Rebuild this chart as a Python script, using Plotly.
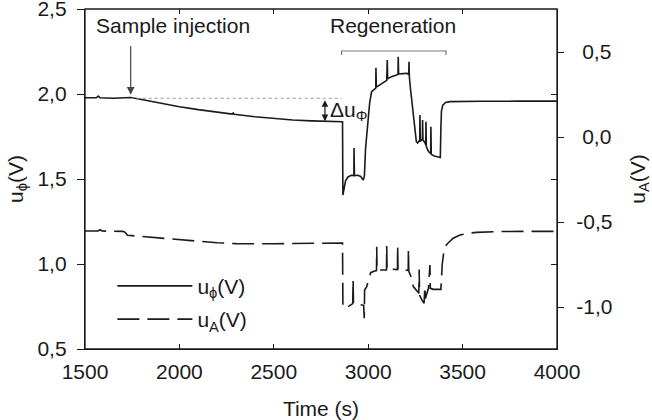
import plotly.graph_objects as go

# ---- data ----
t_phi = [1500, 1560, 1570, 1580, 1650, 1700, 1742, 1800, 1900, 2000, 2100, 2200, 2280, 2285, 2290,
         2400, 2500, 2600, 2700, 2800, 2864, 2866, 2872, 2880, 2893, 2910, 2924, 2925, 2927, 2945,
         2960, 2974, 2980, 2986, 2992, 3000, 3008, 3018, 3030, 3040, 3041, 3043, 3070, 3098, 3101,
         3103, 3124, 3145, 3158, 3159, 3161, 3185, 3205, 3215, 3216, 3218, 3225, 3232, 3240, 3248,
         3255, 3262, 3273, 3274, 3276, 3287, 3288, 3290, 3300, 3305, 3306, 3308, 3320, 3331, 3332,
         3334, 3350, 3370, 3382, 3385, 3388, 3395, 3410, 3433, 3500, 3600, 3800, 4000]
u_phi = [1.978, 1.978, 1.988, 1.978, 1.975, 1.976, 1.979, 1.968, 1.945, 1.925, 1.908, 1.893, 1.882, 1.888, 1.881,
         1.866, 1.855, 1.847, 1.842, 1.838, 1.837, 1.406, 1.44, 1.49, 1.512, 1.522, 1.52, 1.682, 1.52, 1.522,
         1.515, 1.494, 1.52, 1.68, 1.75, 1.86, 1.95, 2.014, 2.028, 2.035, 2.155, 2.04, 2.06, 2.08, 2.2,
         2.09, 2.102, 2.112, 2.115, 2.219, 2.118, 2.12, 2.122, 2.115, 2.19, 2.1, 2.02, 1.95, 1.84, 1.75,
         1.72, 1.712, 1.73, 1.876, 1.72, 1.735, 1.847, 1.73, 1.715, 1.70, 1.837, 1.69, 1.66, 1.65, 1.808,
         1.645, 1.635, 1.63, 1.627, 1.80, 1.90, 1.935, 1.95, 1.955, 1.957, 1.957, 1.958, 1.958]

t_a = [1500, 1570, 1580, 1590, 1700, 1712, 1725, 1800, 1900, 2000, 2109, 2200, 2300, 2400, 2500,
       2600, 2700, 2800, 2864, 2866, 2890, 2918, 2920, 2922, 2950, 2976, 2979, 2981, 2992, 3003,
       3013, 3030, 3044, 3045, 3047, 3070, 3097, 3098, 3100, 3130, 3155, 3156, 3158, 3185, 3212,
       3213, 3215, 3230, 3239, 3266, 3268, 3270, 3272, 3285, 3296, 3300, 3303, 3319, 3327, 3329,
       3345, 3385, 3388, 3392, 3400, 3410, 3422, 3450, 3486, 3530, 3575, 3700, 3850, 4000]
u_a = [-0.553, -0.553, -0.545, -0.553, -0.555, -0.56, -0.578, -0.585, -0.597, -0.607, -0.616, -0.622, -0.627, -0.629, -0.628,
       -0.626, -0.624, -0.624, -0.624, -1.002, -1.0, -0.98, -0.841, -0.98, -0.985, -0.99, -1.066, -0.90, -0.88, -0.83,
       -0.798, -0.79, -0.786, -0.645, -0.786, -0.782, -0.782, -0.641, -0.782, -0.778, -0.78, -0.641, -0.782, -0.78, -0.785,
       -0.66, -0.79, -0.83, -0.88, -0.916, -0.92, -0.78, -0.93, -0.96, -0.978, -0.88, -0.95, -0.89, -0.753, -0.89,
       -0.896, -0.896, -0.772, -0.75, -0.68, -0.64, -0.625, -0.595, -0.576, -0.566, -0.561, -0.556, -0.555, -0.555]

x_ticks = [1500, 2000, 2500, 3000, 3500, 4000]
y1_ticks = [0.5, 1.0, 1.5, 2.0, 2.5]
y1_text = ["0,5", "1,0", "1,5", "2,0", "2,5"]
y2_ticks = [-1.0, -0.5, 0.0, 0.5]
y2_text = ["-1,0", "-0,5", "\u00a00,0", "\u00a00,5"]

injection_t = 1742
baseline_phi = 1.975
drop_end_phi = 1.837
regen_start, regen_end = 2859, 3412

FONT = "Liberation Sans, Arial, sans-serif"
FS = 21
INK = "#1a1a1a"

fig = go.Figure()
fig.add_trace(go.Scatter(x=t_phi, y=u_phi, mode="lines", name="u<sub>\u03d5</sub>(V)",
                         line=dict(color=INK, width=1.6), legendgroup="a", xaxis="x", yaxis="y"))
fig.add_trace(go.Scatter(x=t_a, y=u_a, mode="lines", name="u<sub>A</sub>(V)",
                         line=dict(color=INK, width=1.6, dash="22px,8px"), legendgroup="b",
                         xaxis="x", yaxis="y2"))
# invisible helper traces so the inner mirror-tick axes (top and right) are drawn
fig.add_trace(go.Scatter(x=t_phi, y=u_phi, mode="lines", line=dict(width=0), opacity=0,
                         showlegend=False, hoverinfo="skip", xaxis="x", yaxis="y3"))
fig.add_trace(go.Scatter(x=t_phi, y=u_phi, mode="lines", line=dict(width=0), opacity=0,
                         showlegend=False, hoverinfo="skip", xaxis="x2", yaxis="y"))

# frame
fig.add_shape(type="rect", xref="paper", yref="paper", x0=0, x1=1, y0=0, y1=1,
              line=dict(color=INK, width=1.3), fillcolor="rgba(0,0,0,0)", layer="above")
# dotted baseline
fig.add_shape(type="line", x0=injection_t, x1=2860, y0=baseline_phi, y1=baseline_phi,
              xref="x", yref="y", line=dict(color="#999999", width=1, dash="dot"))
# regeneration bracket
fig.add_shape(type="path", xref="x", yref="y",
              path=f"M{regen_start},2.229 L{regen_start},2.253 L{regen_end},2.253 L{regen_end},2.229",
              line=dict(color="#777777", width=1.2))

# sample injection arrow
fig.add_annotation(x=injection_t, y=1.995, ax=injection_t, ay=2.29, xref="x", yref="y",
                   axref="x", ayref="y", text="", showarrow=True, arrowhead=2, arrowsize=1.3,
                   arrowwidth=1.2, arrowcolor="#444444")
fig.add_annotation(x=1965, y=2.405, xref="x", yref="y", text="Sample injection", showarrow=False,
                   font=dict(family=FONT, size=FS, color=INK))
fig.add_annotation(x=3130, y=2.405, xref="x", yref="y", text="Regeneration", showarrow=False,
                   font=dict(family=FONT, size=FS, color=INK))
# delta u arrow (double headed)
fig.add_annotation(x=2771, y=drop_end_phi + 0.003, ax=2771, ay=baseline_phi - 0.003, xref="x", yref="y",
                   axref="x", ayref="y", text="", showarrow=True, arrowhead=2, startarrowhead=2,
                   arrowside="end+start", arrowsize=1.1, startarrowsize=1.1, arrowwidth=1.2, arrowcolor=INK)
fig.add_annotation(x=2785, y=1.9, xref="x", yref="y", text="\u0394u<sub>\u03a6</sub>", showarrow=False,
                   xanchor="left", font=dict(family=FONT, size=FS, color=INK))

axis_common = dict(showgrid=False, zeroline=False, linecolor=INK, linewidth=1.3, tickcolor=INK,
                   tickwidth=1.3, automargin=False, ticklabeloverflow="allow",
                   tickfont=dict(family=FONT, size=FS, color=INK))

fig.update_layout(
    template="none",
    width=652, height=420,
    margin=dict(l=85, r=95, t=9, b=71, autoexpand=False),
    paper_bgcolor="white", plot_bgcolor="white",
    font=dict(family=FONT, size=FS, color=INK),
    xaxis=dict(range=[1500, 4000], tickvals=x_ticks, ticks="inside", ticklen=5,
               showline=True, ticklabelstandoff=4,
               title=dict(text="Time (s)", standoff=18, font=dict(family=FONT, size=FS)),
               **axis_common),
    xaxis2=dict(range=[1500, 4000], tickvals=x_ticks, ticks="inside", ticklen=5, overlaying="x",
                side="top", anchor="y", showline=False, showticklabels=False, showgrid=False,
                zeroline=False, tickcolor=INK, tickwidth=1.3, automargin=False),
    yaxis=dict(range=[0.5, 2.5], tickvals=y1_ticks, ticktext=y1_text, ticks="outside", ticklen=7,
               showline=True, ticklabelstandoff=6,
               title=dict(text="u<sub>\u03d5</sub>(V)", standoff=8, font=dict(family=FONT, size=FS)),
               **axis_common),
    yaxis2=dict(range=[-1.247, 0.753], tickvals=y2_ticks, ticktext=y2_text, ticks="outside", ticklen=6,
                overlaying="y", side="right", anchor="x", showline=True, ticklabelstandoff=8,
                title=dict(text="u<sub>A</sub>(V)", standoff=20, font=dict(family=FONT, size=FS)),
                **axis_common),
    yaxis3=dict(range=[0.5, 2.5], tickvals=y1_ticks, ticks="inside", ticklen=6, overlaying="y",
                side="right", anchor="x", showline=False, showticklabels=False, showgrid=False,
                zeroline=False, tickcolor=INK, tickwidth=1.3, automargin=False),
    showlegend=True,
    legend=dict(x=0.058, y=0.245, xanchor="left", yanchor="top", bgcolor="rgba(0,0,0,0)",
                font=dict(family=FONT, size=FS, color=INK), traceorder="grouped", tracegroupgap=3,
                itemwidth=75),
)

fig.write_html("out.html", config={"displayModeBar": False},
               post_script="document.body.style.margin='0';document.body.style.overflow='hidden';")
